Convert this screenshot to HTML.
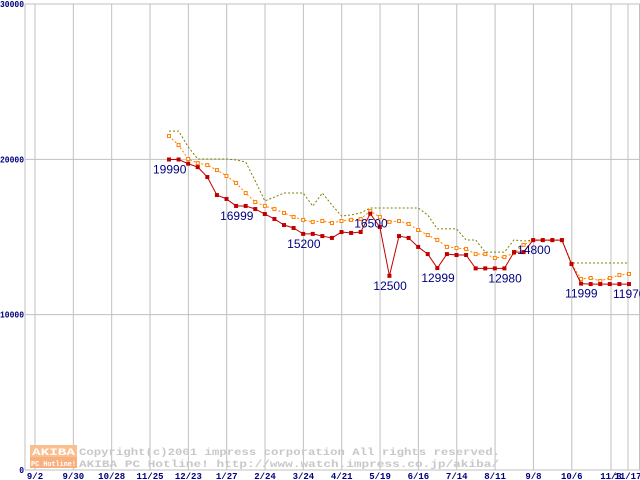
<!DOCTYPE html>
<html><head><meta charset="utf-8"><style>
html,body{margin:0;padding:0;background:#fff;}
svg{display:block;font-family:"Liberation Mono","DejaVu Sans Mono",monospace;}
</style></head><body>
<svg id="chart" width="640" height="480" viewBox="0 0 640 480" xmlns="http://www.w3.org/2000/svg"></svg>
<script>
const xTickLabels = ["9/2","9/30","10/28","11/25","12/23","1/27","2/24","3/24","4/21","5/19","6/16","7/14","8/11","9/8","10/6","11/3","11/17"];
const yTicks = [0,10000,20000,30000];
const minPrice = [19990,19990,19720,19500,18860,17700,17450,16999,16999,16800,16480,16160,15770,15580,15200,15200,15060,14940,15320,15260,15320,16500,15640,12500,15060,14940,14360,13900,12999,13900,13840,13840,12980,12980,12980,12980,14030,14030,14800,14800,14800,14800,13260,11999,11970,11970,11970,11970,11970];
const avgPrice = [21500,20920,20020,19760,19630,19310,18930,18480,17830,17250,17000,16800,16550,16290,16100,15970,16030,15900,16030,16100,16160,16670,16290,15970,16030,15840,15450,15130,14810,14360,14290,14230,13900,13900,13650,13710,13970,14490,14800,14800,14800,14800,13260,12300,12360,12170,12360,12550,12620];
const maxPrice = [21820,21820,20800,20020,20020,20020,20020,19960,19830,18610,17320,17570,17830,17830,17830,16990,17830,17060,16350,16420,16550,16870,16870,16870,16870,16870,16870,16420,15520,15520,15520,14810,14810,14030,14030,14030,14810,14740,14800,14800,14800,14800,13330,13330,13330,13330,13330,13330,13330];
const labelIdx = [0,7,14,21,23,28,35,38,43,48];

const NS="http://www.w3.org/2000/svg";
const svg=document.getElementById('chart');
const X0=25,TOP=4,BOT=470;
const yS=v=>BOT-(v/30000)*(BOT-TOP);
const tickX=i=>i<15?35+i*38.34:(i===15?611:628);
const xS=i=>169+i*(460/48);
function el(t,a,p){const e=document.createElementNS(NS,t);for(const k in a)e.setAttribute(k,a[k]);(p||svg).appendChild(e);return e;}

xTickLabels.forEach((lab,i)=>{
  const x=tickX(i);
  const g=el('line',{x1:x,y1:TOP,x2:x,y2:BOT,stroke:'#c0c0c0','stroke-width':1});
  
  
  const t=el('text',{x:x,y:479,'font-size':9,'font-weight':'bold',fill:'#000080','text-anchor':'middle'});
  t.textContent=lab;
  
  
});
const rl=el('line',{x1:639.5,y1:TOP,x2:639.5,y2:BOT,stroke:'#c0c0c0'});


yTicks.forEach(v=>{
  const y=yS(v);
  const g=el('line',{x1:X0,y1:y,x2:640,y2:y,stroke:'#c0c0c0'});
  
  
  const s=String(v);
  const t=el('text',{x:X0-1,y:y+3,'font-size':9,'font-weight':'bold',fill:'#000080','text-anchor':'end',textLength:s.length*4.8,lengthAdjust:'spacingAndGlyphs'});
  t.textContent=s;
  
  
});
const ax=el('line',{x1:X0,y1:TOP,x2:X0,y2:BOT,stroke:'#c0c0c0'});



const wm=el('g',{});


el('rect',{x:30,y:445,width:47,height:12,fill:'#f8c090'},wm);
el('rect',{x:30,y:457,width:47,height:11,fill:'#f8b080'},wm);
const w1=el('text',{x:32,y:455,'font-size':10,'font-weight':'bold',fill:'#fff',textLength:43,lengthAdjust:'spacingAndGlyphs'},wm);w1.textContent='AKIBA';
const w2=el('text',{x:31,y:466,'font-size':7,'font-weight':'bold',fill:'#fff',textLength:45,lengthAdjust:'spacingAndGlyphs'},wm);w2.textContent='PC Hotline!';
const w3=el('text',{x:79,y:455,'font-size':10.3,'font-weight':'bold',fill:'#c8c8c8',textLength:421,lengthAdjust:'spacingAndGlyphs'},wm);w3.textContent='Copyright(c)2001 impress corporation All rights reserved.';
const w4=el('text',{x:79,y:467,'font-size':10.3,'font-weight':'bold',fill:'#c8c8c8',textLength:420,lengthAdjust:'spacingAndGlyphs'},wm);w4.textContent='AKIBA PC Hotline!  http://www.watch.impress.co.jp/akiba/';

function pts(arr){return arr.map((v,i)=>xS(i)+','+yS(v)).join(' ');}
const maxL=el('polyline',{points:pts(maxPrice),fill:'none',stroke:'#808000','stroke-width':1,'stroke-dasharray':'2,2'});


const avgL=el('polyline',{points:pts(avgPrice),fill:'none',stroke:'#ff8000','stroke-width':1,'stroke-dasharray':'2,2'});


avgPrice.forEach((v,i)=>{
  const r=el('rect',{x:xS(i)-1.5,y:yS(v)-1.5,width:3,height:3,fill:'#fff',stroke:'#ff8000','stroke-width':1});
  
  
});
const minL=el('polyline',{points:pts(minPrice),fill:'none',stroke:'#c00000','stroke-width':1});


minPrice.forEach((v,i)=>{
  const r=el('rect',{x:xS(i)-2,y:yS(v)-2,width:4,height:4,fill:'#c00000'});
  
  
});
labelIdx.forEach(i=>{
  const t=el('text',{x:xS(i)-16,y:yS(minPrice[i])+14,'font-family':'"Liberation Sans",sans-serif','font-size':12,fill:'#000080'});
  t.textContent=String(minPrice[i]);
  
  
});
</script>
</body></html>
